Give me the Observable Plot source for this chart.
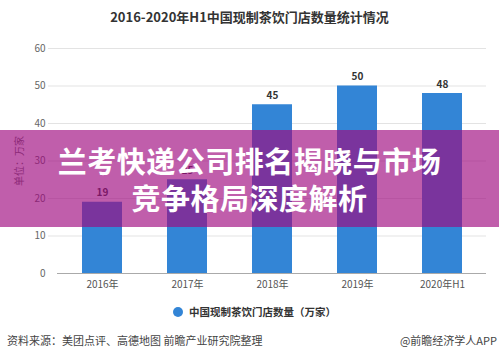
<!DOCTYPE html>
<html>
<head>
<meta charset="utf-8">
<script src="https://cdn.jsdelivr.net/npm/d3@7"></script>
<script src="https://cdn.jsdelivr.net/npm/@observablehq/plot@0.6"></script>
<style>
  html, body { margin: 0; padding: 0; background: #fff; }
  body { width: 499px; height: 358px; position: relative; overflow: hidden; font-family: "Noto Sans CJK SC", "Noto Sans", sans-serif; }
  #title { position: absolute; top: 2px; left: 0; width: 499px; text-align: center; font-size: 13px; font-weight: bold; color: #333; line-height: 30px; }
  #chart { position: absolute; top: 30px; left: 0; width: 499px; }
  #legend { position: absolute; top: 304px; left: 173px; font-size: 10.5px; font-weight: bold; color: #333; line-height: 16px; display: flex; align-items: center; }
  #legend .dot { width: 10px; height: 10px; border-radius: 50%; background: #3385d6; margin-right: 6px; }
  #source { position: absolute; top: 332px; left: 7px; font-size: 11px; color: #444; line-height: 16px; }
  #credit { position: absolute; top: 332px; right: 2px; font-size: 11px; color: #444; line-height: 16px; }
  #banner { position: absolute; top: 130px; left: 0; width: 499px; height: 97px; background: rgba(160,10,128,0.66); color: #fff; font-weight: bold; font-size: 29px; line-height: 37px; text-align: center; display: flex; flex-direction: column; justify-content: center; letter-spacing: 0.5px; }
</style>
</head>
<body>
<div id="title"></div>
<div id="chart"></div>
<div id="legend"><span class="dot"></span><span id="legendText"></span></div>
<div id="source"></div>
<div id="credit"></div>
<div id="banner"><div id="b1"></div><div id="b2"></div></div>
<script>
const categories = ["2016年", "2017年", "2018年", "2019年", "2020年H1"];
const values = [19, 25, 45, 50, 48];
const yTicks = [0, 10, 20, 30, 40, 50, 60];
const titleText = "2016-2020年H1中国现制茶饮门店数量统计情况";
const seriesName = "中国现制茶饮门店数量（万家）";
const yLabel = "单位：万家";
const sourceText = "资料来源：美团点评、高德地图 前瞻产业研究院整理";
const creditText = "@前瞻经济学人APP";
const bannerLines = ["兰考快递公司排名揭晓与市场", "竞争格局深度解析"];

document.getElementById("title").textContent = titleText;
document.getElementById("legendText").textContent = seriesName;
document.getElementById("source").textContent = sourceText;
document.getElementById("credit").textContent = creditText;
document.getElementById("b1").textContent = bannerLines[0];
document.getElementById("b2").textContent = bannerLines[1];

const data = categories.map((c, i) => ({category: c, value: values[i]}));

const chart = Plot.plot({
  width: 499,
  height: 265,
  marginTop: 18,
  marginBottom: 22,
  marginLeft: 57,
  marginRight: 13,
  style: {fontFamily: '"Noto Sans CJK SC", sans-serif', fontSize: "10px", color: "#555", background: "transparent"},
  x: {domain: categories, paddingInner: 0.534, paddingOuter: 0.267, label: null},
  y: {domain: [0, 60], ticks: yTicks, label: yLabel, labelAnchor: "center", labelArrow: "none", labelOffset: 42},
  marks: [
    Plot.ruleY(yTicks.filter(d => d > 0), {stroke: "#e3e3e3", insetLeft: -9}),
    Plot.axisY({ticks: yTicks, tickSize: 0, tickPadding: 12, label: yLabel, labelAnchor: "center", labelArrow: "none", labelOffset: 42, fill: "#666"}),
    Plot.axisX({tickSize: 0, tickPadding: 7, label: null, fill: "#555"}),
    Plot.barY(data, {x: "category", y: "value", fill: "#3385d6"}),
    Plot.ruleY([0], {stroke: "#aaa"}),
    Plot.text(data, {x: "category", y: "value", text: d => String(d.value), dy: -9, fontWeight: "bold", fontSize: 10, fill: "#333"})
  ]
});
document.getElementById("chart").appendChild(chart);
</script>
</body>
</html>
